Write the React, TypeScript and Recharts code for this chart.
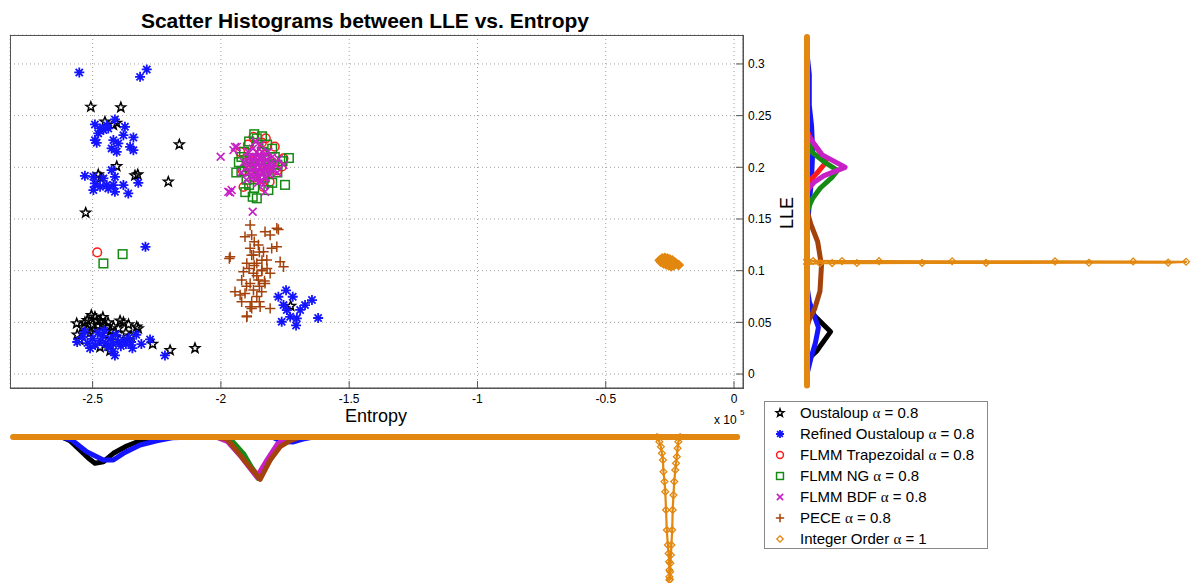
import React from 'react';
import { ScatterChart, Scatter, XAxis, YAxis, CartesianGrid } from 'recharts';

type Pt = [number, number];

const FONT = '"Liberation Sans", Arial, sans-serif';

const C = {
  black: '#000000',
  blue: '#1414ff',
  red: '#ff1a1a',
  green: '#158a15',
  magenta: '#c620c6',
  brown: '#a4420c',
  orange: '#e2870f',
};

// main scatter: [entropy (x 1e5), LLE]
const oustaloup: Pt[] = [
  [-2.507, 0.2585], [-2.39, 0.258], [-2.162, 0.222], [-2.205, 0.186], [-2.527, 0.156],
  [-2.452, 0.244], [-2.419, 0.241], [-2.406, 0.243], [-2.406, 0.201], [-2.478, 0.193],
  [-2.468, 0.19], [-2.335, 0.192], [-2.324, 0.193],
  [-2.562, 0.049], [-2.56, 0.038], [-2.521, 0.052], [-2.491, 0.0554], [-2.484, 0.0515],
  [-2.458, 0.047], [-2.419, 0.046], [-2.393, 0.0515], [-2.37, 0.04], [-2.328, 0.0457],
  [-2.322, 0.044], [-2.471, 0.026], [-2.266, 0.029], [-2.198, 0.023], [-2.101, 0.025],
  [-2.432, 0.0225], [-2.54, 0.045], [-2.5, 0.048], [-2.47, 0.052], [-2.44, 0.05],
  [-2.43, 0.042], [-2.51, 0.04], [-2.49, 0.043], [-2.45, 0.038], [-2.4, 0.044],
  [-2.36, 0.048], [-2.53, 0.05], [-2.505, 0.057], [-2.46, 0.055], [-2.41, 0.036],
  [-2.55, 0.033], [-2.35, 0.037], [-2.52, 0.043], [-2.48, 0.047], [-2.445, 0.045],
  [-2.38, 0.05], [-1.728, 0.0658],
];

const refinedOustaloup: Pt[] = [
  [-2.552, 0.2918], [-2.315, 0.2875], [-2.289, 0.2947],
  [-2.491, 0.2415], [-2.471, 0.2376], [-2.478, 0.2328], [-2.458, 0.236], [-2.439, 0.2376],
  [-2.413, 0.2463], [-2.374, 0.2392], [-2.38, 0.2311], [-2.341, 0.2289], [-2.491, 0.2263],
  [-2.484, 0.2237], [-2.419, 0.2263], [-2.4, 0.2231], [-2.426, 0.2183], [-2.406, 0.215],
  [-2.354, 0.2198], [-2.341, 0.2166], [-2.445, 0.2408],
  [-2.53, 0.1918], [-2.497, 0.1908], [-2.491, 0.1844], [-2.497, 0.178], [-2.458, 0.1892],
  [-2.445, 0.1828], [-2.426, 0.1973], [-2.413, 0.1908], [-2.419, 0.1828], [-2.413, 0.1763],
  [-2.38, 0.1828], [-2.361, 0.1747], [-2.322, 0.185], [-2.471, 0.1811], [-2.439, 0.1796],
  [-2.294, 0.1231],
  [-2.56, 0.031], [-2.54, 0.036], [-2.52, 0.03], [-2.5, 0.034], [-2.49, 0.028],
  [-2.47, 0.032], [-2.46, 0.037], [-2.45, 0.03], [-2.44, 0.026], [-2.43, 0.034],
  [-2.42, 0.029], [-2.41, 0.038], [-2.4, 0.031], [-2.39, 0.027], [-2.38, 0.033],
  [-2.37, 0.029], [-2.36, 0.035], [-2.35, 0.031], [-2.345, 0.025], [-2.51, 0.025],
  [-2.48, 0.04], [-2.455, 0.042], [-2.53, 0.041], [-2.42, 0.022], [-2.276, 0.0335],
  [-2.218, 0.018], [-2.413, 0.018], [-2.33, 0.038], [-2.31, 0.029],
  [-1.776, 0.0748], [-1.72, 0.0748], [-1.756, 0.0667], [-1.743, 0.0619], [-1.763, 0.0506],
  [-1.73, 0.0554], [-1.704, 0.0539], [-1.672, 0.0667], [-1.621, 0.0542], [-1.691, 0.062],
  [-1.746, 0.081], [-1.645, 0.0716], [-1.707, 0.047],
];

const flmmTrapezoidal: Pt[] = [
  [-2.482, 0.1177], [-1.873, 0.2295], [-1.925, 0.215], [-1.756, 0.2086], [-1.763, 0.2005],
  [-1.912, 0.181], [-1.834, 0.181], [-1.9, 0.205], [-1.88, 0.198], [-1.86, 0.22],
  [-1.85, 0.202], [-1.83, 0.212], [-1.82, 0.195], [-1.8, 0.205], [-1.79, 0.22],
  [-1.87, 0.19], [-1.84, 0.224], [-1.81, 0.186], [-1.895, 0.222], [-1.78, 0.197],
  [-1.915, 0.197], [-1.865, 0.207], [-1.845, 0.19], [-1.825, 0.228],
];

const flmmNG: Pt[] = [
  [-2.458, 0.107], [-2.383, 0.116],
  [-1.93, 0.205], [-1.92, 0.196], [-1.91, 0.215], [-1.9, 0.188], [-1.89, 0.225],
  [-1.88, 0.209], [-1.87, 0.18], [-1.86, 0.228], [-1.85, 0.198], [-1.84, 0.215],
  [-1.83, 0.19], [-1.82, 0.222], [-1.81, 0.203], [-1.8, 0.185], [-1.79, 0.21],
  [-1.78, 0.195], [-1.76, 0.206], [-1.75, 0.183], [-1.735, 0.209], [-1.86, 0.17],
  [-1.876, 0.1715], [-1.94, 0.195], [-1.905, 0.176], [-1.815, 0.178], [-1.87, 0.232],
  [-1.84, 0.23], [-1.895, 0.2], [-1.875, 0.194], [-1.825, 0.208], [-1.8, 0.218],
  [-1.78, 0.2025], [-1.89, 0.183], [-1.92, 0.21],
];

const flmmBDF: Pt[] = [
  [-2.001, 0.2102], [-1.876, 0.157], [-1.971, 0.1763], [-1.958, 0.178], [-1.828, 0.1763],
  [-1.951, 0.2166], [-1.938, 0.2198], [-1.964, 0.1757], [-1.756, 0.2021], [-1.945, 0.2198],
  [-1.9, 0.2], [-1.89, 0.195], [-1.88, 0.205], [-1.88, 0.19], [-1.87, 0.2],
  [-1.87, 0.21], [-1.86, 0.195], [-1.86, 0.205], [-1.86, 0.215], [-1.85, 0.19],
  [-1.85, 0.2], [-1.85, 0.21], [-1.84, 0.195], [-1.84, 0.205], [-1.84, 0.215],
  [-1.83, 0.2], [-1.83, 0.19], [-1.83, 0.21], [-1.82, 0.198], [-1.82, 0.207],
  [-1.81, 0.193], [-1.81, 0.203], [-1.8, 0.198], [-1.8, 0.21], [-1.79, 0.203],
  [-1.89, 0.21], [-1.9, 0.188], [-1.875, 0.218], [-1.855, 0.185], [-1.835, 0.183],
  [-1.815, 0.215], [-1.865, 0.225], [-1.845, 0.222], [-1.895, 0.215], [-1.91, 0.205],
  [-1.78, 0.195], [-1.775, 0.208], [-1.92, 0.195],
  [-1.895, 0.205], [-1.885, 0.2], [-1.875, 0.195], [-1.865, 0.2], [-1.855, 0.195],
  [-1.855, 0.205], [-1.845, 0.2], [-1.835, 0.195], [-1.835, 0.205], [-1.825, 0.2],
  [-1.815, 0.197], [-1.805, 0.204], [-1.875, 0.205], [-1.865, 0.21], [-1.845, 0.21],
  [-1.825, 0.213], [-1.885, 0.21], [-1.865, 0.19], [-1.845, 0.187], [-1.825, 0.19],
];

const pece: Pt[] = [
  [-1.886, 0.1441], [-1.906, 0.1328], [-1.88, 0.1344], [-1.828, 0.1376], [-1.808, 0.1344],
  [-1.776, 0.1399], [-1.964, 0.1134], [-1.886, 0.1216], [-1.854, 0.1248], [-1.873, 0.1151],
  [-1.834, 0.1183], [-1.802, 0.1216], [-1.782, 0.1231], [-1.899, 0.1071], [-1.86, 0.1071],
  [-1.821, 0.1103], [-1.769, 0.1086], [-1.756, 0.1038], [-1.912, 0.0989], [-1.873, 0.0974],
  [-1.841, 0.1006], [-1.808, 0.0974], [-1.919, 0.0909], [-1.886, 0.0877], [-1.854, 0.0909],
  [-1.828, 0.0877], [-1.945, 0.0796], [-1.906, 0.078], [-1.873, 0.0812], [-1.841, 0.0796],
  [-1.919, 0.0699], [-1.886, 0.0651], [-1.847, 0.0651], [-1.808, 0.0635], [-1.899, 0.0554],
  [-1.967, 0.1118], [-1.899, 0.0561], [-1.88, 0.0635], [-1.925, 0.0764], [-1.782, 0.141],
  [-1.87, 0.105], [-1.86, 0.095], [-1.85, 0.085], [-1.84, 0.11], [-1.88, 0.115],
  [-1.83, 0.09], [-1.86, 0.075], [-1.87, 0.128], [-1.85, 0.118], [-1.84, 0.1],
  [-1.89, 0.102], [-1.82, 0.102], [-1.9, 0.085], [-1.88, 0.07], [-1.85, 0.07],
];

const integerOrder: Pt[] = [
  [-0.29, 0.11], [-0.28, 0.112], [-0.27, 0.1125], [-0.26, 0.112], [-0.25, 0.111],
  [-0.24, 0.11], [-0.23, 0.108], [-0.22, 0.106], [-0.285, 0.1085], [-0.275, 0.107],
  [-0.265, 0.106], [-0.255, 0.105], [-0.245, 0.104], [-0.235, 0.105], [-0.27, 0.109],
  [-0.26, 0.108], [-0.25, 0.107], [-0.24, 0.106], [-0.28, 0.11], [-0.215, 0.1055],
];

// right histogram: [count, LLE]
const histRBlack: Pt[] = [[0, 0.075], [0.5, 0.065], [1.5, 0.058], [6.2, 0.041], [2.5, 0.022], [0.5, 0.015], [0, 0.008]];
const histRBlue: Pt[] = [
  [0, 0.31], [0.6, 0.29], [0.6, 0.26], [1.2, 0.24], [1.5, 0.215], [1.2, 0.19], [0.5, 0.16], [0, 0.14],
  [0, 0.085], [0.6, 0.07], [3, 0.045], [2.2, 0.03], [1, 0.015], [0, 0],
];
const histRRed: Pt[] = [[0, 0.235], [1.5, 0.224], [3.5, 0.214], [5, 0.205], [3, 0.196], [1, 0.188], [0, 0.18]];
const histRGreen: Pt[] = [[0, 0.228], [1.5, 0.214], [5, 0.204], [8, 0.197], [6.5, 0.19], [3.5, 0.18], [1.5, 0.17], [0.5, 0.162], [0, 0.155]];
const histRMagenta: Pt[] = [[0, 0.232], [2, 0.222], [4, 0.212], [10, 0.2], [4.5, 0.192], [2, 0.186], [0.5, 0.18], [0, 0.175]];
const histRBrown: Pt[] = [[0, 0.158], [1, 0.145], [2.8, 0.128], [3.8, 0.105], [3.4, 0.08], [2, 0.063], [0.5, 0.052], [0, 0.045]];
const histROrangeBase: Pt[] = [[0, -0.011], [0, 0.326]];
const histROrangePeak: Pt[] = [
  [0, 0.1105], [1.6, 0.1094], [9.2, 0.1093], [18.9, 0.1092], [38.1, 0.1091], [65.1, 0.109],
  [85.6, 0.1089], [99.5, 0.1086], [94.8, 0.1078], [74.0, 0.1077], [47.0, 0.1076], [30.2, 0.1075],
  [13.1, 0.1074], [6.6, 0.1073], [3.4, 0.1072], [0, 0.1065],
];

// bottom histogram: [entropy (x 1e5), count]
const histBBlack: Pt[] = [[-2.62, 0], [-2.588, 2.6], [-2.517, 14.7], [-2.491, 18.4], [-2.458, 17.3], [-2.419, 11.4], [-2.367, 6.3], [-2.315, 2.6], [-2.27, 0.5], [-2.2, 0]];
const histBBlue: Pt[] = [
  [-2.62, 0], [-2.581, 2.1], [-2.523, 10.3], [-2.458, 16.1], [-2.419, 16.1], [-2.38, 11.4], [-2.315, 5.6],
  [-2.25, 2.6], [-2.19, 0.5], [-2.1, 0], [-1.8, 0], [-1.765, 3], [-1.72, 3.5], [-1.68, 1.5], [-1.64, 0],
];
const histBRed: Pt[] = [[-2.0, 0], [-1.96, 4], [-1.91, 15], [-1.855, 27], [-1.81, 14], [-1.77, 4], [-1.73, 0]];
const histBGreen: Pt[] = [[-2.0, 0], [-1.96, 2], [-1.91, 12], [-1.855, 29], [-1.815, 18], [-1.775, 7], [-1.74, 1.5], [-1.7, 0]];
const histBMagenta: Pt[] = [[-2.02, 0], [-1.975, 3], [-1.925, 13], [-1.86, 28], [-1.82, 16], [-1.78, 5], [-1.74, 0]];
const histBBrown: Pt[] = [[-2.02, 0], [-1.977, 1.5], [-1.951, 6.8], [-1.899, 18.4], [-1.847, 29.6], [-1.808, 16.1], [-1.769, 6.8], [-1.73, 2.6], [-1.69, 0]];
const histBOrangeBase: Pt[] = [[-2.81, 0], [0.012, 0]];
const histBOrangePeak: Pt[] = [
  [-0.3, 0], [-0.291, 3.3], [-0.285, 6.8], [-0.281, 11.4], [-0.277, 16.1], [-0.275, 24.3], [-0.271, 31.2],
  [-0.268, 38.2], [-0.265, 51.0], [-0.262, 65.0], [-0.258, 75.5], [-0.255, 81.4], [-0.253, 87.2],
  [-0.252, 93.0], [-0.252, 97.7], [-0.2515, 100], [-0.25, 99.5], [-0.249, 94.2], [-0.248, 88.3],
  [-0.246, 82.5], [-0.244, 75.5], [-0.241, 65.0], [-0.239, 51.0], [-0.236, 40.6], [-0.233, 31.2],
  [-0.229, 23.1], [-0.226, 18.4], [-0.223, 13.8], [-0.22, 7.9], [-0.217, 3.3], [-0.21, 0],
];

const xTicks = [-2.5, -2, -1.5, -1, -0.5, 0];
const yTicks = [0, 0.05, 0.1, 0.15, 0.2, 0.25, 0.3];
const X_DOMAIN: [number, number] = [-2.822, 0.035];
const Y_DOMAIN: [number, number] = [-0.0135, 0.328];

const legendItems = [
  { kind: 'star', color: C.black, name: 'Oustaloup ', value: ' = 0.8' },
  { kind: 'asterisk', color: C.blue, name: 'Refined Oustaloup ', value: ' = 0.8' },
  { kind: 'circle', color: C.red, name: 'FLMM Trapezoidal ', value: ' = 0.8' },
  { kind: 'square', color: C.green, name: 'FLMM NG ', value: ' = 0.8' },
  { kind: 'x', color: C.magenta, name: 'FLMM BDF ', value: ' = 0.8' },
  { kind: 'plus', color: C.brown, name: 'PECE ', value: ' = 0.8' },
  { kind: 'diamond', color: C.orange, name: 'Integer Order ', value: ' = 1' },
];

const xy = (pts: Pt[]) => pts.map(([x, y]) => ({ x, y }));

function Marker({ kind, cx, cy, color, s = 1, fill = 'none' }: any) {
  if (cx == null || cy == null) return <g />;
  if (kind === 'star') {
    const R = 5 * s, r = 2.1 * s;
    let d = '';
    for (let i = 0; i < 10; i++) {
      const a = -Math.PI / 2 + (i * Math.PI) / 5;
      const rad = i % 2 ? r : R;
      d += (i ? 'L' : 'M') + (cx + rad * Math.cos(a)).toFixed(2) + ',' + (cy + rad * Math.sin(a)).toFixed(2);
    }
    return <path d={d + 'Z'} fill="none" stroke={color} strokeWidth={1.5} />;
  }
  if (kind === 'asterisk') {
    const r = 5 * s, q = r * 0.72;
    return (
      <path
        d={`M${cx - r},${cy}H${cx + r}M${cx},${cy - r}V${cy + r}M${cx - q},${cy - q}L${cx + q},${cy + q}M${cx - q},${cy + q}L${cx + q},${cy - q}`}
        stroke={color}
        strokeWidth={1.8}
      />
    );
  }
  if (kind === 'circle') return <circle cx={cx} cy={cy} r={4.3 * s} fill="none" stroke={color} strokeWidth={1.5} />;
  if (kind === 'square') {
    const h = 4.3 * s;
    return <rect x={cx - h} y={cy - h} width={2 * h} height={2 * h} fill="none" stroke={color} strokeWidth={1.5} />;
  }
  if (kind === 'x') {
    const r = 3.9 * s;
    return <path d={`M${cx - r},${cy - r}L${cx + r},${cy + r}M${cx - r},${cy + r}L${cx + r},${cy - r}`} stroke={color} strokeWidth={1.6} />;
  }
  if (kind === 'plus') {
    const r = 5.2 * s;
    return <path d={`M${cx - r},${cy}H${cx + r}M${cx},${cy - r}V${cy + r}`} stroke={color} strokeWidth={1.5} />;
  }
  const r = 4 * s;
  return <path d={`M${cx},${cy - r}L${cx + r},${cy}L${cx},${cy + r}L${cx - r},${cy}Z`} fill={fill} stroke={color} strokeWidth={1.3} />;
}

const shapeOf = (kind: string, color: string, s = 1, fill = 'none') => (p: any) => (
  <Marker kind={kind} cx={p.cx} cy={p.cy} color={color} s={s} fill={fill} />
);
const noShape = () => <g />;

function HistLine({ data, color, width = 5, markers = false }: any) {
  return (
    <Scatter
      data={xy(data)}
      fill={color}
      line={{ stroke: color, strokeWidth: width, strokeLinejoin: 'round', strokeLinecap: 'round' }}
      shape={markers ? shapeOf('diamond', color, 0.85) : noShape}
      isAnimationActive={false}
    />
  );
}

const axisStroke = '#555';
const tickStyle = { fontSize: 12, fill: '#000', fontFamily: FONT };

export default function App() {
  return (
    <div style={{ position: 'absolute', left: 0, top: 0, width: 1192, height: 583, background: '#fff', fontFamily: FONT }}>
      <div style={{ position: 'absolute', left: 0, top: 0 }}>
        <ScatterChart width={790} height={425} margin={{ top: 35, right: 7, bottom: 7, left: 10 }}>
          <CartesianGrid strokeDasharray="1 3" stroke="#a0a0a0" />
          <XAxis
            type="number"
            dataKey="x"
            domain={X_DOMAIN}
            ticks={xTicks}
            allowDataOverflow
            height={30}
            tickSize={-7}
            tickMargin={13}
            tick={tickStyle}
            axisLine={{ stroke: axisStroke }}
            tickLine={{ stroke: axisStroke }}
          />
          <YAxis
            type="number"
            dataKey="y"
            orientation="right"
            domain={Y_DOMAIN}
            ticks={yTicks}
            allowDataOverflow
            width={40}
            tickSize={-7}
            tickMargin={12}
            tick={tickStyle}
            axisLine={{ stroke: axisStroke }}
            tickLine={{ stroke: axisStroke }}
          />
          <Scatter data={xy(oustaloup)} fill={C.black} shape={shapeOf('star', C.black)} isAnimationActive={false} />
          <Scatter data={xy(refinedOustaloup)} fill={C.blue} shape={shapeOf('asterisk', C.blue)} isAnimationActive={false} />
          <Scatter data={xy(flmmTrapezoidal)} fill={C.red} shape={shapeOf('circle', C.red)} isAnimationActive={false} />
          <Scatter data={xy(flmmNG)} fill={C.green} shape={shapeOf('square', C.green)} isAnimationActive={false} />
          <Scatter data={xy(flmmBDF)} fill={C.magenta} shape={shapeOf('x', C.magenta)} isAnimationActive={false} />
          <Scatter data={xy(pece)} fill={C.brown} shape={shapeOf('plus', C.brown)} isAnimationActive={false} />
          <Scatter data={xy(integerOrder)} fill={C.orange} shape={shapeOf('diamond', C.orange, 1.1, C.orange)} isAnimationActive={false} />
        </ScatterChart>
      </div>

      <div style={{ position: 'absolute', left: 0, top: 0 }}>
        <ScatterChart width={1192} height={425} margin={{ top: 35, right: 4, bottom: 37, left: 807 }}>
          <XAxis type="number" dataKey="x" domain={[0, 100]} hide />
          <YAxis type="number" dataKey="y" domain={Y_DOMAIN} hide />
          {HistLine({ data: histRBlack, color: C.black })}
          {HistLine({ data: histRBlue, color: C.blue })}
          {HistLine({ data: histRRed, color: C.red })}
          {HistLine({ data: histRGreen, color: C.green })}
          {HistLine({ data: histRMagenta, color: C.magenta })}
          {HistLine({ data: histRBrown, color: C.brown })}
          {HistLine({ data: histROrangePeak, color: C.orange, width: 2.2, markers: true })}
          {HistLine({ data: histROrangeBase, color: C.orange, width: 6 })}
        </ScatterChart>
      </div>

      <div style={{ position: 'absolute', left: 0, top: 0 }}>
        <ScatterChart width={790} height={583} margin={{ top: 437, right: 47, bottom: 3, left: 10 }}>
          <XAxis type="number" dataKey="x" domain={X_DOMAIN} hide />
          <YAxis type="number" dataKey="y" domain={[0, 100]} reversed hide />
          {HistLine({ data: histBBlack, color: C.black })}
          {HistLine({ data: histBBlue, color: C.blue })}
          {HistLine({ data: histBRed, color: C.red })}
          {HistLine({ data: histBGreen, color: C.green })}
          {HistLine({ data: histBMagenta, color: C.magenta })}
          {HistLine({ data: histBBrown, color: C.brown })}
          {HistLine({ data: histBOrangePeak, color: C.orange, width: 2.2, markers: true })}
          {HistLine({ data: histBOrangeBase, color: C.orange, width: 6 })}
        </ScatterChart>
      </div>

      <svg width={1192} height={583} style={{ position: 'absolute', left: 0, top: 0, pointerEvents: 'none' }}>
        <rect x={10.5} y={35.5} width={733} height={353} fill="none" stroke={axisStroke} strokeWidth={1} />
        <text x={365} y={28} textAnchor="middle" fontSize={21} fontWeight="bold" fontFamily={FONT} fill="#000">
          Scatter Histograms between LLE vs. Entropy
        </text>
        <text x={376} y={422} textAnchor="middle" fontSize={18} fontFamily={FONT} fill="#000">
          Entropy
        </text>
        <text x={714} y={424} fontSize={12} fontFamily={FONT} fill="#000">
          x 10
        </text>
        <text x={740} y={415} fontSize={8} fontFamily={FONT} fill="#000">
          5
        </text>
        <text
          x={0}
          y={0}
          transform="translate(793,213) rotate(-90)"
          textAnchor="middle"
          fontSize={18}
          fontFamily={FONT}
          fill="#000"
        >
          LLE
        </text>

        <rect x={764.5} y={401.5} width={223} height={147} fill="#fff" stroke="#888" strokeWidth={1} />
        {legendItems.map((it, i) => {
          const cy = 413 + i * 21;
          return (
            <g key={it.name}>
              <Marker kind={it.kind} cx={780} cy={cy} color={it.color} s={0.8} />
              <text x={800} y={cy + 5} fontSize={15} fontFamily={FONT} fill="#000">
                {it.name}
                <tspan fontFamily='"Liberation Serif", serif'>α</tspan>
                {it.value}
              </text>
            </g>
          );
        })}
      </svg>
    </div>
  );
}
